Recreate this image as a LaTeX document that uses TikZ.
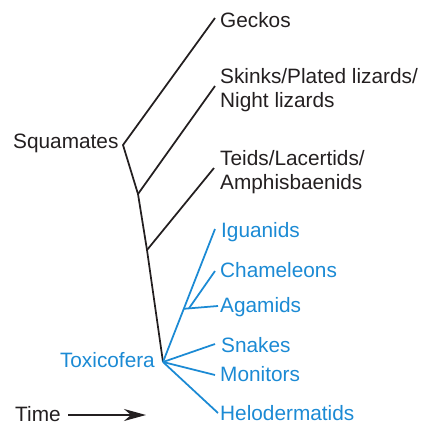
\documentclass[tikz,border=0pt]{standalone}
\usepackage{fontspec}
\setmainfont{Liberation Sans}
\usetikzlibrary{arrows.meta,calc}
\definecolor{tblue}{RGB}{27,138,212}
\definecolor{tblack}{RGB}{35,31,32}
\begin{document}
\begin{tikzpicture}[x=1pt,y=-1pt,
  lbl/.style={anchor=base west,inner sep=0pt,font=\fontsize{20.8}{24}\selectfont,text=tblack},
  blbl/.style={lbl,text=tblue},
  branch/.style={draw=tblack,line width=1.75pt,line join=miter},
  bbranch/.style={draw=tblue,line width=1.75pt,line join=miter},
  timearrow/.style={draw=tblack,line width=1.4pt,-{Stealth[length=22pt,width=12pt,inset=7pt]}}
]
\useasboundingbox (0,0) rectangle (424,426);

% internal nodes and tips
\coordinate (root) at (123,145);
\coordinate (n2) at (138,194);
\coordinate (n3) at (147,250);
\coordinate (tox) at (163,362);
\coordinate (geckoTip) at (215,18);
\coordinate (skinkTip) at (215,86);
\coordinate (teidTip) at (214,168);
\coordinate (iguTip) at (215,229);
\coordinate (chamTip) at (215,271);
\coordinate (agaTip) at (218,306);
\coordinate (snakeTip) at (215,344);
\coordinate (monTip) at (215,375);
\coordinate (heloTip) at (218,413);
\coordinate (acNode) at ($(tox)!0.4!(iguTip)$);
\coordinate (chamBase) at ($(acNode)!0.15!(agaTip)$);

% labels
\node[lbl] (squamates) at (13,148) {Squamates};
\node[lbl] (geckos) at (220,27) {Geckos};
\node[lbl] (skinks) at (220,83) {\begin{tabular}[t]{@{}l@{}}Skinks/Plated lizards/\\Night lizards\end{tabular}};
\node[lbl] (teids) at (220,165) {\begin{tabular}[t]{@{}l@{}}Teids/Lacertids/\\Amphisbaenids\end{tabular}};
\node[blbl] (iguanids) at (221,237) {Iguanids};
\node[blbl] (chameleons) at (220,277) {Chameleons};
\node[blbl] (agamids) at (220,312) {Agamids};
\node[blbl] (snakes) at (221,352) {Snakes};
\node[blbl] (monitors) at (220,381) {Monitors};
\node[blbl] (helo) at (220,420) {Helodermatids};
\node[blbl,anchor=base east] (toxicofera) at (155,367) {Toxicofera};
\node[lbl] (time) at (15,421) {Time};

% black tree
\draw[branch] (geckoTip) -- (root) -- (n2) -- (n3) -- (tox);
\draw[branch] (n2) -- (skinkTip);
\draw[branch] (n3) -- (teidTip);

% blue subtree
\draw[bbranch] (tox) -- (iguTip);
\draw[bbranch] (acNode) -- (agaTip);
\draw[bbranch] (chamBase) -- (chamTip);
\draw[bbranch] (tox) -- (snakeTip);
\draw[bbranch] (tox) -- (monTip);
\draw[bbranch] (tox) -- (heloTip);

% time arrow
\coordinate (ta) at (68,415);
\coordinate (tb) at (146,415);
\draw[timearrow] (ta) -- (tb);
\end{tikzpicture}
\end{document}
